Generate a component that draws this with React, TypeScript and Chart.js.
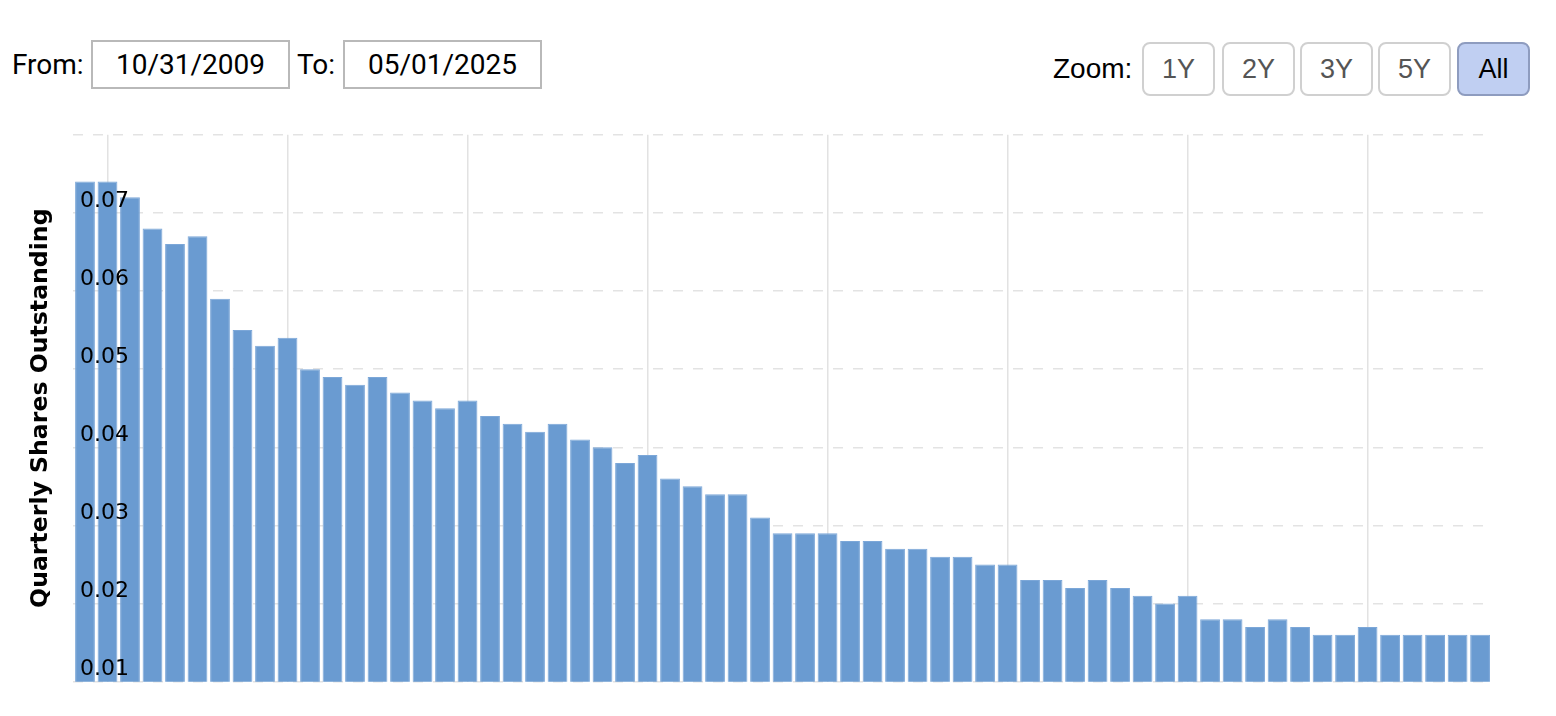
import React, { useEffect, useRef } from 'react';
import { Chart, registerables } from 'chart.js';

Chart.register(...registerables);

const quarters = [
  '2009-10', '2010-01', '2010-04', '2010-07', '2010-10', '2011-01', '2011-04', '2011-07', '2011-10',
  '2012-01', '2012-04', '2012-07', '2012-10', '2013-01', '2013-04', '2013-07', '2013-10',
  '2014-01', '2014-04', '2014-07', '2014-10', '2015-01', '2015-04', '2015-07', '2015-10',
  '2016-01', '2016-04', '2016-07', '2016-10', '2017-01', '2017-04', '2017-07', '2017-10',
  '2018-01', '2018-04', '2018-07', '2018-10', '2019-01', '2019-04', '2019-07', '2019-10',
  '2020-01', '2020-04', '2020-07', '2020-10', '2021-01', '2021-04', '2021-07', '2021-10',
  '2022-01', '2022-04', '2022-07', '2022-10', '2023-01', '2023-04', '2023-07', '2023-10',
  '2024-01', '2024-04', '2024-07', '2024-10', '2025-01', '2025-04',
];

const sharesOutstanding = [
  0.074, 0.074, 0.072, 0.068, 0.066, 0.067, 0.059, 0.055, 0.053,
  0.054, 0.050, 0.049, 0.048, 0.049, 0.047, 0.046, 0.045,
  0.046, 0.044, 0.043, 0.042, 0.043, 0.041, 0.040, 0.038,
  0.039, 0.036, 0.035, 0.034, 0.034, 0.031, 0.029, 0.029,
  0.029, 0.028, 0.028, 0.027, 0.027, 0.026, 0.026, 0.025,
  0.025, 0.023, 0.023, 0.022, 0.023, 0.022, 0.021, 0.020,
  0.021, 0.018, 0.018, 0.017, 0.018, 0.017, 0.016, 0.016,
  0.017, 0.016, 0.016, 0.016, 0.016, 0.016,
];

const gridQuarters = ['2010-01', '2012-01', '2014-01', '2016-01', '2018-01', '2020-01', '2022-01', '2024-01'];
const yTicks = [0.01, 0.02, 0.03, 0.04, 0.05, 0.06, 0.07, 0.08];
const zoomButtons = ['1Y', '2Y', '3Y', '5Y', 'All'];
const zoomLefts = [1142, 1222, 1300, 1378, 1457];
const fromDate = '10/31/2009';
const toDate = '05/01/2025';

function ShareChart() {
  const ref = useRef<HTMLCanvasElement | null>(null);
  useEffect(() => {
    if (!ref.current) return;
    const chart = new Chart(ref.current, {
      type: 'bar',
      data: {
        datasets: [
          {
            data: quarters.map((q, i) => ({ x: i, y: sharesOutstanding[i] })),
            backgroundColor: 'rgb(106,155,209)',
            borderColor: 'rgb(124,167,216)',
            borderWidth: 1,
            barPercentage: 0.88,
            categoryPercentage: 1,
            clip: { left: 20, right: 20, top: 20, bottom: 0 },
          } as any,
        ],
      },
      options: {
        animation: false,
        responsive: false,
        devicePixelRatio: 1,
        layout: { padding: { left: 0, right: 73, top: 24.7, bottom: 34.3 } },
        plugins: { legend: { display: false }, tooltip: { enabled: false } },
        scales: {
          x: {
            type: 'linear',
            min: -0.533,
            max: 62.13,
            offset: false,
            grid: { offset: false, color: '#e2e2e2', lineWidth: 1.5, drawTicks: false },
            border: { display: false },
            ticks: { display: false },
            afterBuildTicks: (s: any) => {
              s.ticks = gridQuarters.map((q) => ({ value: quarters.indexOf(q) }));
            },
            afterFit: (s: any) => {
              s.height = 0;
            },
          },
          y: {
            min: 0.01,
            max: 0.08,
            afterBuildTicks: (s: any) => {
              s.ticks = yTicks.map((v) => ({ value: v }));
            },
            ticks: {
              mirror: true,
              padding: 7,
              labelOffset: -12,
              z: 1,
              color: '#000',
              font: { family: 'DejaVu Sans', size: 22 },
              callback: (v: any) => (Number(v) > 0.0795 ? '' : Number(v).toFixed(2)),
            },
            grid: { color: '#e3e3e3', lineWidth: 1.5, drawTicks: false },
            border: { display: false, dash: [10, 10] },
            title: {
              display: true,
              text: 'Quarterly Shares Outstanding',
              color: '#000',
              font: { family: 'DejaVu Sans', size: 23.6, weight: 'bold' },
              padding: { top: 26.5, bottom: 0 },
            },
            afterFit: (s: any) => {
              s.width = 73;
            },
          },
        },
      } as any,
    });
    return () => chart.destroy();
  }, []);
  return (
    <canvas
      ref={ref}
      width={1556}
      height={606}
      style={{ position: 'absolute', left: 0, top: 110, width: 1556, height: 606 }}
    />
  );
}

const dateText: React.CSSProperties = {
  position: 'absolute',
  top: 40,
  height: 49,
  lineHeight: '49px',
  fontFamily: 'Roboto',
  fontSize: 28,
};

const dateBox: React.CSSProperties = {
  position: 'absolute',
  top: 40,
  width: 199,
  height: 49,
  boxSizing: 'border-box',
  border: '2px solid #b9b9b9',
  fontFamily: 'Roboto',
  fontSize: 28,
  lineHeight: '45px',
  textAlign: 'center',
};

export default function App() {
  return (
    <div
      style={{
        position: 'absolute',
        left: 0,
        top: 0,
        width: 1556,
        height: 716,
        background: '#fff',
        overflow: 'hidden',
        color: '#000',
      }}
    >
      <div style={{ ...dateText, left: 12 }}>From:</div>
      <div style={{ ...dateBox, left: 91 }}>{fromDate}</div>
      <div style={{ ...dateText, left: 297 }}>To:</div>
      <div style={{ ...dateBox, left: 343 }}>{toDate}</div>
      <div
        style={{
          position: 'absolute',
          left: 1053,
          top: 42,
          height: 54,
          lineHeight: '54px',
          fontFamily: '"Liberation Sans", Arial, sans-serif',
          fontSize: 28,
        }}
      >
        Zoom:
      </div>
      {zoomButtons.map((b, i) => {
        const active = b === 'All';
        return (
          <div
            key={b}
            style={{
              position: 'absolute',
              left: zoomLefts[i],
              top: 42,
              width: 73,
              height: 54,
              boxSizing: 'border-box',
              borderRadius: 8,
              border: active ? '2px solid #8e9cbf' : '2px solid #d0d0d0',
              background: active ? '#c0cff2' : '#fff',
              color: active ? '#000' : '#555',
              fontFamily: '"Liberation Sans", Arial, sans-serif',
              fontSize: 27,
              lineHeight: '50px',
              textAlign: 'center',
            }}
          >
            {b}
          </div>
        );
      })}
      <ShareChart />
    </div>
  );
}
